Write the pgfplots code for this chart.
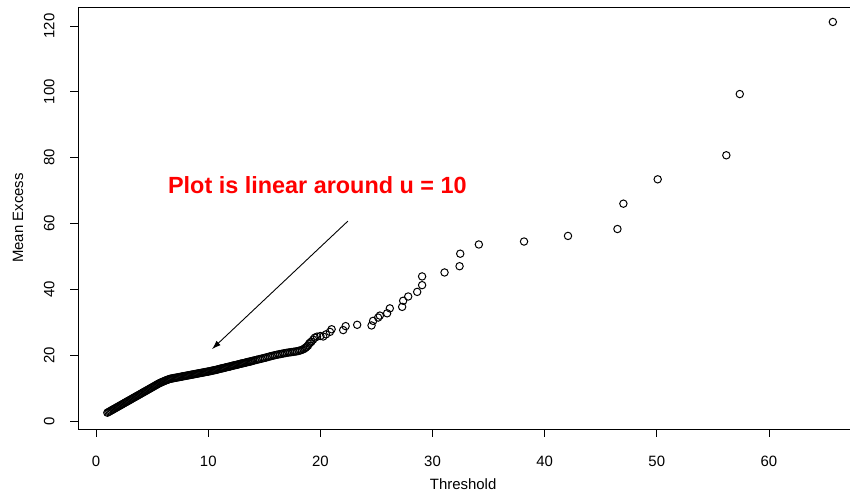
\documentclass[border=0pt]{standalone}
\usepackage{fontspec}
\setmainfont{Liberation Sans}
\usepackage{pgfplots}
\pgfplotsset{compat=1.18}
\usetikzlibrary{arrows.meta}

\pgfplotstableread{
x y
1.0 2.50
1.1 2.69
1.2 2.89
1.3 3.08
1.4 3.27
1.5 3.47
1.6 3.66
1.7 3.85
1.8 4.04
1.9 4.24
2.0 4.43
2.1 4.62
2.2 4.82
2.3 5.01
2.4 5.20
2.5 5.40
2.6 5.59
2.7 5.78
2.8 5.97
2.9 6.17
3.0 6.36
3.1 6.55
3.2 6.75
3.3 6.94
3.4 7.13
3.5 7.33
3.6 7.52
3.7 7.71
3.8 7.90
3.9 8.10
4.0 8.29
4.1 8.48
4.2 8.68
4.3 8.87
4.4 9.06
4.5 9.26
4.6 9.45
4.7 9.64
4.8 9.83
4.9 10.03
5.0 10.22
5.1 10.41
5.2 10.61
5.3 10.80
5.4 11.00
5.5 11.20
5.6 11.40
5.7 11.55
5.8 11.70
5.9 11.85
6.0 12.00
6.1 12.15
6.2 12.30
6.3 12.42
6.4 12.55
6.5 12.68
6.6 12.80
6.7 12.87
6.8 12.93
6.9 13.00
7.0 13.06
7.1 13.12
7.2 13.19
7.3 13.25
7.4 13.32
7.5 13.39
7.6 13.45
7.7 13.52
7.8 13.58
7.9 13.65
8.0 13.71
8.1 13.78
8.2 13.84
8.3 13.91
8.4 13.97
8.5 14.04
8.6 14.10
8.7 14.17
8.8 14.23
8.9 14.30
9.0 14.36
9.1 14.43
9.2 14.49
9.3 14.56
9.4 14.62
9.5 14.69
9.6 14.75
9.7 14.82
9.8 14.88
9.9 14.95
10.0 15.00
10.1 15.08
10.2 15.15
10.3 15.22
10.4 15.30
10.5 15.38
10.6 15.45
10.7 15.52
10.8 15.60
10.9 15.70
11.0 15.80
11.1 15.88
11.2 15.95
11.3 16.02
11.4 16.10
11.5 16.20
11.6 16.30
11.7 16.38
11.8 16.45
11.9 16.52
12.0 16.60
12.1 16.70
12.2 16.80
12.3 16.88
12.4 16.95
12.5 17.02
12.6 17.10
12.7 17.20
12.8 17.30
12.9 17.38
13.0 17.45
13.1 17.52
13.2 17.60
13.3 17.70
13.4 17.80
13.5 17.88
13.6 17.95
13.7 18.02
13.8 18.10
13.9 18.20
14.0 18.30
14.15 18.42
14.3 18.55
14.45 18.68
14.6 18.80
14.75 18.92
14.9 19.05
15.05 19.18
15.2 19.30
15.35 19.45
15.5 19.60
15.65 19.72
15.8 19.85
15.95 19.98
16.1 20.10
16.25 20.20
16.4 20.30
16.55 20.40
16.7 20.50
16.85 20.60
17.0 20.70
17.15 20.78
17.3 20.85
17.45 20.92
17.6 21.00
17.75 21.08
17.9 21.15
18.05 21.28
18.2 21.40
18.35 21.60
18.5 21.80
18.6 22.05
18.7 22.30
18.8 22.60
18.9 22.90
19.0 23.50
19.1 23.80
19.2 24.10
19.35 24.70
19.5 25.30
19.7 25.60
20.0 25.80
20.25 25.65
20.5 26.30
20.85 27.05
21.0 27.85
22.03 27.60
22.25 28.80
23.28 29.20
24.56 29.00
24.70 30.40
25.15 31.40
25.30 32.00
25.95 32.70
26.19 34.20
27.29 34.65
27.38 36.50
27.83 37.80
28.63 39.20
29.07 41.25
29.07 43.90
31.07 45.10
32.41 47.00
32.47 50.80
34.13 53.60
38.16 54.50
42.08 56.20
46.49 58.30
47.02 66.00
50.08 73.40
56.20 80.70
57.40 99.30
65.70 121.20
}\meandata

\begin{document}
\begin{tikzpicture}[x=1bp,y=1bp]
\path[use as bounding box] (0,0) rectangle (850,493);
\begin{axis}[
  at={(78.3bp,64bp)}, anchor=south west,
  scale only axis, width=783.7bp, height=422bp,
  xmin=-1.59, xmax=68.3, ymin=-2.45, ymax=125.75,
  axis line style={line width=0.8bp, black},
  tick align=outside, major tick length=8bp,
  tick style={black, line width=0.8bp},
  xtick={0,10,...,60}, ytick={0,20,...,120},
  xtick pos=bottom, ytick pos=left,
  font=\fontsize{15}{18}\selectfont,
  /pgf/number format/assume math mode=true,
  xticklabel style={anchor=base, inner sep=0pt, yshift=-29.8bp},
  yticklabel style={rotate=90, anchor=base, inner sep=0pt, yshift=15.8bp},
  xlabel={Threshold}, ylabel={Mean Excess},
  xlabel style={at={(axis description cs:0.491,-0.13)}, anchor=center},
  ylabel style={at={(axis description cs:-0.077,0.5)}, anchor=center},
  clip=false,
]
\addplot[only marks, mark=o, mark size=3.7bp, mark options={line width=1bp, black}] table {\meandata};
\draw[line width=0.9bp, -{Latex[length=9bp,width=6bp]}] (axis cs:22.45,60.7) -- (axis cs:10.33,21.8);
\node[text=red, font=\fontsize{23.5}{28}\selectfont\bfseries] at (axis cs:19.73,71.6) {Plot is linear around u = 10};
\end{axis}
\end{tikzpicture}
\end{document}
